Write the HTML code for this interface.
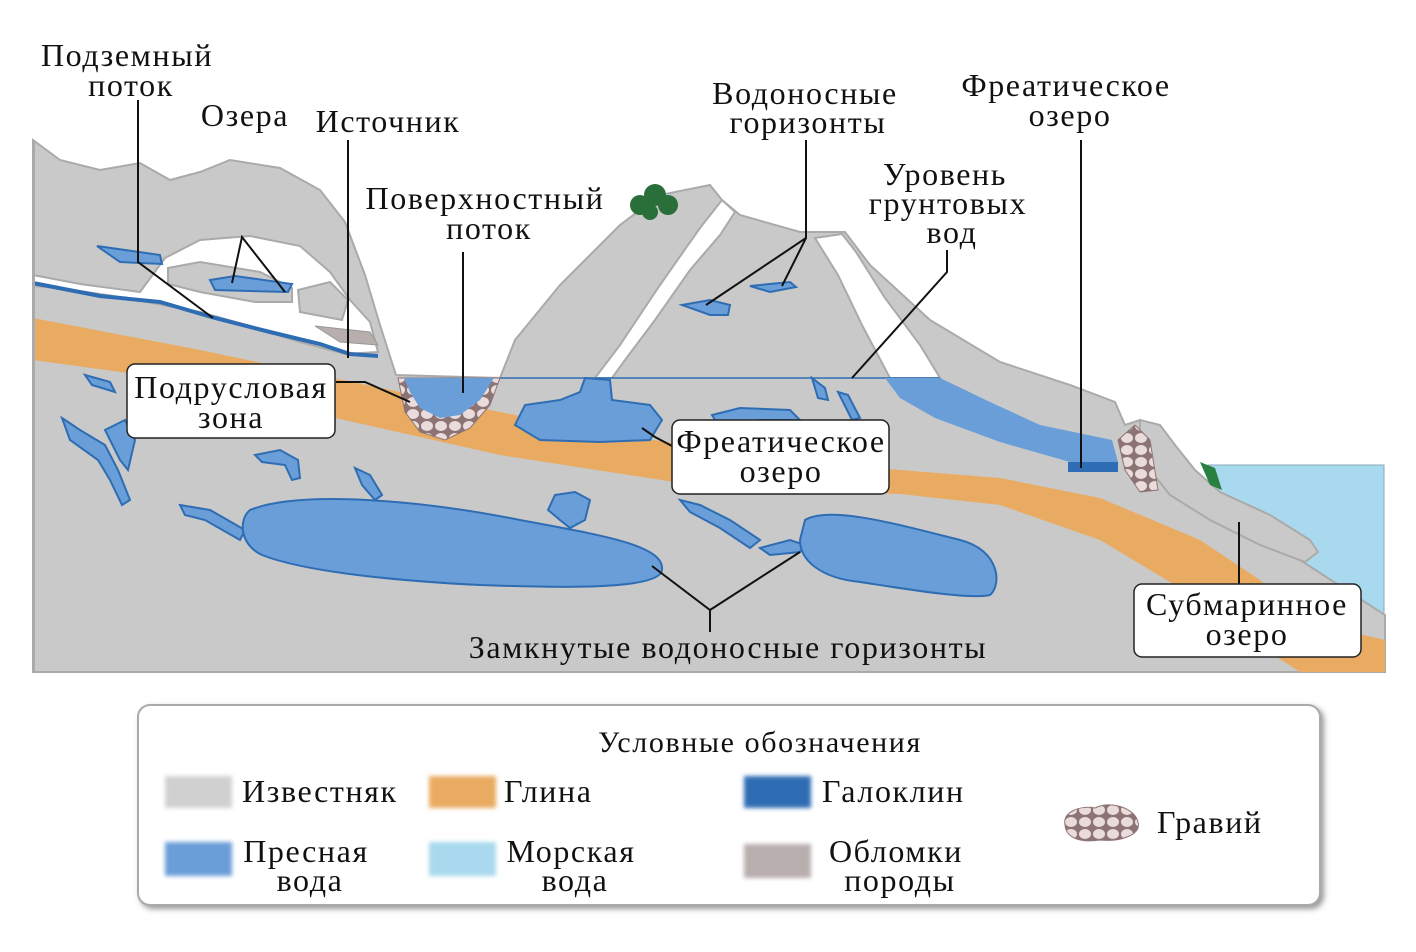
<!DOCTYPE html>
<html><head><meta charset="utf-8"><style>
body{margin:0;background:#fff;}
svg{display:block}
text{font-family:"Liberation Serif",serif;fill:#111;}
</style></head><body>
<svg width="1416" height="952" viewBox="0 0 1416 952" xmlns="http://www.w3.org/2000/svg">
<defs>
<pattern id="grav" width="14" height="12" patternUnits="userSpaceOnUse">
<rect width="14" height="12" fill="#8d7474"/>
<ellipse cx="7" cy="6" rx="6" ry="5" fill="#eadcdc"/>
</pattern>
<filter id="bl"><feGaussianBlur stdDeviation="2"/></filter>
<filter id="sh"><feDropShadow dx="3" dy="3" stdDeviation="3" flood-color="#999"/></filter>
</defs>
<rect x="1208" y="465" width="176" height="207" fill="#a9d9ee" stroke="#8ab" stroke-width="1"/>
<path d="M33,140 L60,160 100,170 140,163 170,180 200,172 230,160 280,168 320,190 345,222 365,275 380,325 396,375 L500,378 L515,340 560,285 620,225 660,195 710,185 722,200 740,215 800,232 845,232 870,265 930,320 1000,362 1070,385 1115,402 1125,425 1140,420 1160,445 1190,480 1230,520 1300,560 1385,615 L1385,672 L33,672 Z" fill="#c9c9c9" stroke="#aaa" stroke-width="2"/>
<path d="M1140,420 L1160,425 1175,445 1195,470 1220,492 1270,515 1310,540 1318,552 1305,562 1260,545 1210,520 1170,495 1150,470 1140,450 Z" fill="#c9c9c9" stroke="#aaa" stroke-width="2"/>
<path d="M1200,462 L1215,468 1222,490 1210,485 Z" fill="#2a8040"/>
<path d="M722,200 L735,212 720,235 690,270 655,320 625,360 612,378 595,378 620,345 660,285 700,228 Z" fill="#fff" stroke="#aaa" stroke-width="2"/>
<path d="M815,238 L842,234 856,252 885,298 920,345 940,378 890,378 862,325 838,275 Z" fill="#fff" stroke="#aaa" stroke-width="2"/>
<path d="M33,275 L80,284 140,292 165,258 200,240 250,236 300,246 330,272 350,300 370,322 378,352 345,354 300,342 250,326 200,312 120,297 60,288 33,286 Z" fill="#fff" stroke="#aaa" stroke-width="2"/>
<path d="M168,268 L200,262 260,272 292,288 292,302 255,302 200,292 168,284 Z" fill="#c9c9c9" stroke="#aaa" stroke-width="2"/>
<path d="M298,290 L330,282 348,300 342,320 300,312 Z" fill="#c9c9c9" stroke="#aaa" stroke-width="2"/>
<path d="M315,326 L370,332 378,345 340,342 Z" fill="#b9aeae" stroke="#999"/>
<path d="M33,283 L100,296 160,302 215,318 270,332 320,344 350,354 378,356" fill="none" stroke="#2e6db3" stroke-width="4"/>
<path d="M97,246 L160,255 162,264 120,262 Z" fill="#6a9ed8" stroke="#2e6db3" stroke-width="2"/>
<path d="M210,280 L235,276 292,284 288,292 215,290 Z" fill="#6a9ed8" stroke="#2e6db3" stroke-width="2"/>
<path d="M33,318 L200,350 400,392 600,432 800,462 1000,478 1100,498 1200,540 1260,580 1300,620 1385,640 L1385,672 1300,672 1250,640 1200,600 1100,540 1000,505 900,494 700,486 500,455 300,410 150,376 33,360 Z" fill="#e9ab62"/>
<line x1="500" y1="378" x2="940" y2="378" stroke="#2e6db3" stroke-width="1.5"/>
<path d="M885,378 L940,378 990,402 1040,425 1112,440 1118,462 1070,462 1000,442 935,418 900,398 Z" fill="#6a9ed8"/>
<rect x="1068" y="462" width="50" height="10" fill="#2e6db3"/>
<path d="M398,378 L500,378 490,405 470,428 445,440 420,432 405,412 Z" fill="url(#grav)" stroke="#8d7474"/>
<path d="M404,378 L494,378 480,400 460,415 440,418 420,408 410,392 Z" fill="#6a9ed8"/>
<path d="M1118,440 L1135,425 1150,440 1158,490 1140,492 1125,470 Z" fill="url(#grav)" stroke="#8d7474"/>
<path d="M585,378 L610,380 612,400 650,405 662,420 650,440 600,442 540,440 515,425 525,405 560,400 580,392 Z" fill="#6a9ed8" stroke="#2e6db3" stroke-width="2"/>
<path d="M712,415 L740,408 790,410 800,420 760,420 718,425 Z" fill="#6a9ed8" stroke="#2e6db3" stroke-width="2"/>
<path d="M812,378 L825,388 828,400 818,398 Z" fill="#6a9ed8" stroke="#2e6db3" stroke-width="2"/>
<path d="M838,392 L848,395 860,418 852,420 Z" fill="#6a9ed8" stroke="#2e6db3" stroke-width="2"/>
<path d="M682,305 L710,300 730,305 728,315 710,315 Z" fill="#6a9ed8" stroke="#2e6db3" stroke-width="2"/>
<path d="M750,286 L790,282 796,287 770,292 Z" fill="#6a9ed8" stroke="#2e6db3" stroke-width="2"/>
<g fill="#6a9ed8" stroke="#2e6db3" stroke-width="2">
<path d="M85,375 L110,382 115,392 92,385 Z"/>
<path d="M62,418 L80,430 105,445 118,470 130,500 122,505 110,480 98,460 70,440 Z"/>
<path d="M105,430 L125,420 135,440 128,470 120,460 Z"/>
<path d="M255,455 L280,450 298,460 300,478 292,480 285,465 262,462 Z"/>
<path d="M355,468 L370,475 382,495 375,500 362,485 Z"/>
<path d="M180,505 L210,510 245,530 240,540 205,520 185,515 Z"/>
<path d="M555,495 L575,492 590,500 585,520 570,528 560,520 548,510 Z"/>
<path d="M680,500 L700,505 730,520 760,540 750,548 720,528 690,512 Z"/>
<path d="M760,548 L790,540 805,545 800,552 770,555 Z"/>
<path d="M250,510 C300,490 420,500 520,520 C600,535 665,545 662,570 C660,590 560,588 480,585 C380,580 300,570 262,555 C240,545 238,520 250,510 Z"/>
<path d="M805,520 C830,505 900,525 960,540 C1000,550 1002,585 990,595 C970,600 900,588 860,582 C820,578 800,560 800,540 Z"/>
</g>
<g stroke="#111" stroke-width="2" fill="none">
<polyline points="138,100 138,262 213,318"/>
<polyline points="232,283 242,237 285,292"/>
<line x1="348" y1="140" x2="348" y2="358"/>
<polyline points="336,382 365,382 410,402"/>
<line x1="463" y1="252" x2="463" y2="393"/>
<polyline points="706,305 806,238 806,140"/>
<line x1="806" y1="238" x2="782" y2="286"/>
<polyline points="947,250 947,272 852,378"/>
<line x1="1081" y1="140" x2="1081" y2="468"/>
<polyline points="672,446 655,437 642,428"/>
<line x1="1239" y1="522" x2="1239" y2="584"/>
<polyline points="652,566 710,610 800,552"/>
<line x1="710" y1="610" x2="710" y2="632"/>
</g>
<g fill="#2a6e3a"><circle cx="640" cy="205" r="10"/><circle cx="655" cy="195" r="11"/><circle cx="668" cy="205" r="10"/><circle cx="650" cy="212" r="8"/></g>
<rect x="33" y="140" width="2" height="532" fill="#aaa"/>
<rect x="127" y="364" width="208" height="74" rx="8" fill="#fff" stroke="#222" stroke-width="1.5"/>
<rect x="672" y="420" width="217" height="74" rx="8" fill="#fff" stroke="#222" stroke-width="1.5"/>
<rect x="1134" y="584" width="227" height="73" rx="8" fill="#fff" stroke="#222" stroke-width="1.5"/>
<g font-size="32" letter-spacing="1.6" text-anchor="middle">
<text x="127" y="66">Подземный</text><text x="131" y="96">поток</text>
<text x="245" y="126">Озера</text>
<text x="388" y="132">Источник</text>
<text x="485" y="209">Поверхностный</text><text x="489" y="239">поток</text>
<text x="805" y="104">Водоносные</text><text x="808" y="133">горизонты</text>
<text x="1066" y="96">Фреатическое</text><text x="1070" y="126">озеро</text>
<text x="945" y="185">Уровень</text><text x="948" y="214">грунтовых</text><text x="952" y="243">вод</text>
<text x="231" y="398">Подрусловая</text><text x="231" y="428">зона</text>
<text x="781" y="452">Фреатическое</text><text x="781" y="482">озеро</text>
<text x="1247" y="615">Субмаринное</text><text x="1247" y="645">озеро</text>
<text x="728" y="658">Замкнутые водоносные горизонты</text>
</g>
<rect x="138" y="705" width="1182" height="200" rx="12" fill="#fff" stroke="#aaa" stroke-width="2" filter="url(#sh)"/>
<g filter="url(#bl)">
<rect x="165" y="776" width="67" height="32" fill="#d0d0d0"/>
<rect x="429" y="776" width="67" height="32" fill="#e9ab62"/>
<rect x="744" y="776" width="67" height="32" fill="#2e6db3"/>
<rect x="165" y="842" width="67" height="34" fill="#6a9ed8"/>
<rect x="429" y="842" width="67" height="34" fill="#a9d9ee"/>
<rect x="744" y="844" width="67" height="34" fill="#b9aeae"/>
</g>
<path d="M1065,825 C1062,812 1080,805 1095,808 C1110,800 1135,808 1138,822 C1142,835 1120,842 1100,840 C1080,843 1066,838 1065,825 Z" fill="url(#grav)" stroke="#8d7474"/>
<g font-size="32" letter-spacing="1.6">
<text x="760" y="752" text-anchor="middle" font-size="30">Условные обозначения</text>
<text x="242" y="802">Известняк</text>
<text x="504" y="802">Глина</text>
<text x="822" y="802">Галоклин</text>
<text x="1157" y="833">Гравий</text>
<text x="306" y="862" text-anchor="middle">Пресная</text><text x="310" y="891" text-anchor="middle">вода</text>
<text x="571" y="862" text-anchor="middle">Морская</text><text x="575" y="891" text-anchor="middle">вода</text>
<text x="896" y="862" text-anchor="middle">Обломки</text><text x="900" y="891" text-anchor="middle">породы</text>
</g>
</svg>
</body></html>
